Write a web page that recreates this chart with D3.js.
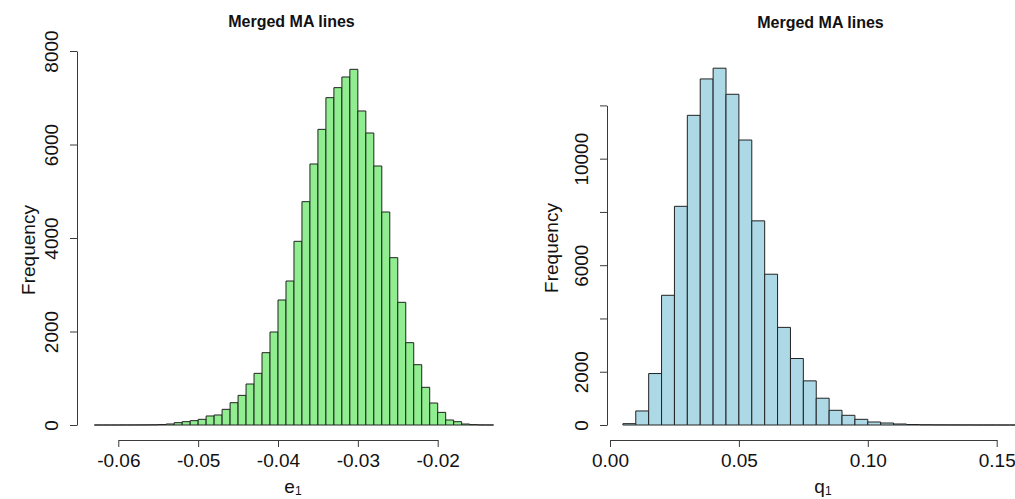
<!DOCTYPE html>
<html>
<head>
<meta charset="utf-8">
<script src="https://cdn.jsdelivr.net/npm/d3@7/dist/d3.min.js"></script>
<style>
  html, body { margin: 0; padding: 0; background: #fff; }
  svg { display: block; }
</style>
</head>
<body>
<div id="chart"></div>
<script>
// e1 histogram (left panel), bin width 0.001
const eBinStart = [
  -0.063, -0.062, -0.061, -0.060, -0.059, -0.058, -0.057, -0.056, -0.055, -0.054,
  -0.053, -0.052, -0.051, -0.050, -0.049, -0.048, -0.047, -0.046, -0.045, -0.044,
  -0.043, -0.042, -0.041, -0.040, -0.039, -0.038, -0.037, -0.036, -0.035, -0.034,
  -0.033, -0.032, -0.031, -0.030, -0.029, -0.028, -0.027, -0.026, -0.025, -0.024,
  -0.023, -0.022, -0.021, -0.020, -0.019, -0.018, -0.017, -0.016, -0.015, -0.014
]
const eCounts = [
  0, 0, 0, 1, 1, 2, 3, 5, 10, 22,
  50, 71, 93, 121, 193, 214, 335, 477, 634, 877,
  1105, 1547, 1989, 2674, 3080, 3929, 4777, 5583, 6324, 7002,
  7216, 7444, 7608, 6717, 6246, 5540, 4556, 3579, 2624, 1761,
  1290, 806, 470, 270, 107, 71, 21, 8, 2, 1
]
const eBinWidth = 0.001
const eXTicks = [-0.06, -0.05, -0.04, -0.03, -0.02]
const eXTickLabels = ["-0.06", "-0.05", "-0.04", "-0.03", "-0.02"]
const eYTicks = [0, 2000, 4000, 6000, 8000]
const eYTickLabels = ["0", "2000", "4000", "6000", "8000"]

// q1 histogram (right panel), bin width 0.005
const qBinStart = [
  0.005, 0.010, 0.015, 0.020, 0.025, 0.030, 0.035, 0.040, 0.045, 0.050,
  0.055, 0.060, 0.065, 0.070, 0.075, 0.080, 0.085, 0.090, 0.095, 0.100,
  0.105, 0.110, 0.115, 0.120, 0.125, 0.130, 0.135, 0.140, 0.145, 0.150, 0.155
]
const qCounts = [
  50, 527, 1932, 4870, 8211, 11627, 12994, 13397, 12418, 10700,
  7665, 5661, 3665, 2497, 1657, 1005, 552, 364, 213, 113,
  75, 38, 18, 9, 5, 3, 2, 1, 1, 0, 0
]
const qBinWidth = 0.005
const qXTicks = [0, 0.05, 0.10, 0.15]
const qXTickLabels = ["0.00", "0.05", "0.10", "0.15"]
const qYTicks = [0, 2000, 4000, 6000, 8000, 10000, 12000]
const qYTickLabels = ["0", "2000", "", "6000", "", "10000", ""]

const FONT = "'Liberation Sans', Arial, Helvetica, sans-serif"
const axisColor = "#3a3a3a"
const barStroke = "#222"

const svg = d3.select("#chart")
  .append("svg")
  .attr("width", 1015)
  .attr("height", 499)
  .attr("font-family", FONT)

svg.append("rect").attr("width", 1015).attr("height", 499).attr("fill", "#fff")

function drawHist(opts) {
  const g = svg.append("g")
  const x = d3.scaleLinear().domain(opts.xDomain).range(opts.xRange)
  const y = d3.scaleLinear().domain(opts.yDomain).range(opts.yRange)

  const bins = opts.starts.map((s, i) => ({ x0: s, x1: s + opts.binWidth, n: opts.counts[i] }))

  // bars as paths so empty bins still show as a line on the baseline
  g.append("g")
    .selectAll("path")
    .data(bins)
    .join("path")
    .attr("d", d => `M${x(d.x0)},${y(0)}V${y(d.n)}H${x(d.x1)}V${y(0)}Z`)
    .attr("fill", opts.fill)
    .attr("stroke", barStroke)
    .attr("stroke-width", 1)

  // x axis
  const gx = g.append("g")
    .attr("transform", `translate(0,${opts.xAxisY})`)
    .call(d3.axisBottom(x)
      .tickValues(opts.xTicks)
      .tickFormat((d, i) => opts.xTickLabels[i])
      .tickSize(7)
      .tickSizeOuter(0))
  gx.attr("font-family", FONT).attr("font-size", 19)
  gx.select(".domain").attr("stroke", axisColor)
  gx.selectAll(".tick line").attr("stroke", axisColor)
  gx.selectAll(".tick text").attr("fill", "#111").attr("y", 27).attr("dy", 0)

  // y axis, labels turned like R's default
  const gy = g.append("g")
    .attr("transform", `translate(${opts.yAxisX},0)`)
    .call(d3.axisLeft(y)
      .tickValues(opts.yTicks)
      .tickFormat((d, i) => opts.yTickLabels[i])
      .tickSize(7)
      .tickSizeOuter(0))
  gy.attr("font-family", FONT).attr("font-size", 19)
  gy.select(".domain").attr("stroke", axisColor)
  gy.selectAll(".tick line").attr("stroke", axisColor)
  gy.selectAll(".tick text")
    .attr("fill", "#111")
    .attr("transform", "rotate(-90)")
    .attr("x", 0)
    .attr("y", -19)
    .attr("dy", 0)
    .attr("text-anchor", "middle")

  // title
  g.append("text")
    .attr("x", opts.titleX).attr("y", opts.titleY)
    .attr("text-anchor", "middle")
    .attr("font-size", 16)
    .attr("font-weight", "bold")
    .attr("fill", "#111")
    .text(opts.title)

  // y label
  g.append("text")
    .attr("transform", `translate(${opts.yLabelX},${opts.yLabelY}) rotate(-90)`)
    .attr("text-anchor", "middle")
    .attr("font-size", 19)
    .attr("fill", "#111")
    .text("Frequency")

  // x label with subscript
  const xl = g.append("text")
    .attr("x", opts.xLabelX).attr("y", 493)
    .attr("text-anchor", "middle")
    .attr("font-size", 19)
    .attr("fill", "#111")
  xl.append("tspan").text(opts.xLabel)
  xl.append("tspan").attr("font-size", 12).attr("dy", 2).text("1")
}

drawHist({
  starts: eBinStart, counts: eCounts, binWidth: eBinWidth, fill: "#90ee90",
  xDomain: [-0.06, -0.02], xRange: [118.3, 437.7],
  yDomain: [0, 8000], yRange: [425, 51],
  xAxisY: 440, yAxisX: 77,
  xTicks: eXTicks, xTickLabels: eXTickLabels,
  yTicks: eYTicks, yTickLabels: eYTickLabels,
  title: "Merged MA lines", titleX: 291.5, titleY: 27,
  yLabelX: 34.5, yLabelY: 250,
  xLabel: "e", xLabelX: 293
})

drawHist({
  starts: qBinStart, counts: qCounts, binWidth: qBinWidth, fill: "#add8e6",
  xDomain: [0, 0.15], xRange: [610, 996.7],
  yDomain: [0, 12000], yRange: [425, 105.4],
  xAxisY: 440, yAxisX: 607,
  xTicks: qXTicks, xTickLabels: qXTickLabels,
  yTicks: qYTicks, yTickLabels: qYTickLabels,
  title: "Merged MA lines", titleX: 820.5, titleY: 28,
  yLabelX: 557.5, yLabelY: 248,
  xLabel: "q", xLabelX: 823
})
</script>
</body>
</html>
